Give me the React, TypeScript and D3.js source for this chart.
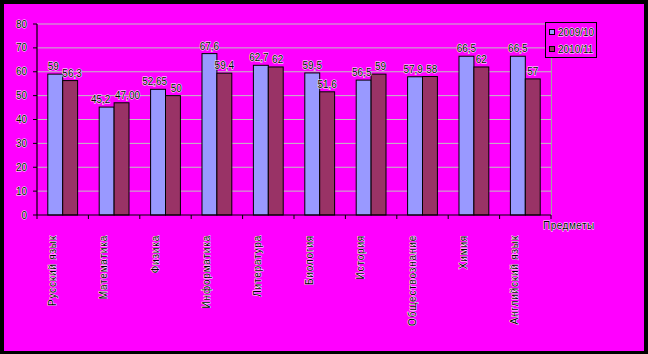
import React from "react";
import * as d3 from "d3";

const categories = [
  "Русский язык",
  "Математика",
  "Физика",
  "Информатика",
  "Литература",
  "Биология",
  "История",
  "Обществознание",
  "Химия",
  "Английский язык",
];
const series2009 = [59, 45.2, 52.65, 67.6, 62.7, 59.5, 56.5, 57.9, 66.5, 66.5];
const labels2009 = ["59", "45,2", "52,65", "67,6", "62,7", "59,5", "56,5", "57,9", "66,5", "66,5"];
const series2010 = [56.3, 47.0, 50, 59.4, 62, 51.6, 59, 58, 62, 57];
const labels2010 = ["56,3", "47,00", "50", "59,4", "62", "51,6", "59", "58", "62", "57"];
const seriesNames = ["2009/10", "2010/11"];
const yTicks = [0, 10, 20, 30, 40, 50, 60, 70, 80];
const axisTitle = "Предметы";

const W = 648;
const H = 354;
const FONT = "Arial, 'Liberation Sans', sans-serif";
const colors = ["#9999FF", "#993366"];

function textWidth(s: string) {
  let w = 0;
  for (const ch of s) w += ch === "," ? 4.5 : 5.8;
  return w;
}

export default function App() {
  const x0 = 37, x1 = 551, yTop = 24, yBot = 215;
  const x = d3.scaleBand<string>().domain(categories).range([x0, x1]);
  const y = d3.scaleLinear().domain([0, 80]).range([yBot, yTop]);
  const bw = x.bandwidth() * 0.29;
  const series = [series2009, series2010];
  const labels = [labels2009, labels2010];

  const textStyle = {
    fontFamily: FONT,
    fontSize: 10,
    fill: "#000",
    stroke: "#fff",
    strokeWidth: 0.9,
    paintOrder: "stroke",
  } as React.CSSProperties;

  // data label placement with simple overlap avoidance between the two bars of a group
  const labelPos = categories.map((c, i) => {
    const cx = x(c)! + x.bandwidth() / 2;
    const pos = series.map((s, j) => ({
      x: cx - bw + j * bw + bw / 2,
      y: y(s[i]) - 4,
      w: textWidth(labels[j][i]),
    }));
    const [a, b] = pos;
    if (Math.abs(a.y - b.y) < 10) {
      const overlap = a.x + a.w / 2 + 2 - (b.x - b.w / 2);
      if (overlap > 0) {
        a.x -= overlap / 2;
        b.x += overlap / 2;
      }
    }
    return pos;
  });

  return (
    <svg width={W} height={H} style={{ position: "absolute", left: 0, top: 0 }}>
      <rect x={0} y={0} width={W} height={H} fill="#000" />
      <rect x={4} y={4} width={640} height={347} fill="#FF00FF" />
      {yTicks.slice(1).map((t) => (
        <line key={t} x1={x0} x2={x1} y1={y(t)} y2={y(t)} stroke="#C0C0C0" strokeWidth={1} />
      ))}
      <line x1={x1 + 0.5} x2={x1 + 0.5} y1={yTop} y2={yBot} stroke="#A0A0A0" strokeWidth={1} />
      {categories.map((c, i) =>
        series.map((s, j) => {
          const cx = x(c)! + x.bandwidth() / 2;
          const bx = cx - bw + j * bw;
          return (
            <rect
              key={c + j}
              x={bx}
              y={y(s[i])}
              width={bw}
              height={yBot - y(s[i])}
              fill={colors[j]}
              stroke="#000"
              strokeWidth={1}
            />
          );
        })
      )}
      <line x1={x0} x2={x0} y1={yTop} y2={yBot} stroke="#000" strokeWidth={1.2} />
      <line x1={x0} x2={x1} y1={yBot} y2={yBot} stroke="#000" strokeWidth={1.2} />
      {yTicks.map((t) => (
        <g key={t}>
          <line x1={x0 - 4} x2={x0} y1={y(t)} y2={y(t)} stroke="#000" />
          <text x={27} y={y(t) + 3.5} textAnchor="end" style={textStyle}>
            {t}
          </text>
        </g>
      ))}
      {categories.map((c, i) => (
        <line key={"t" + i} x1={x(c)!} x2={x(c)!} y1={yBot} y2={yBot + 4} stroke="#000" />
      ))}
      <line x1={x1} x2={x1} y1={yBot} y2={yBot + 4} stroke="#000" />
      {categories.map((c, i) =>
        series.map((s, j) => (
          <text
            key={"l" + c + j}
            x={labelPos[i][j].x}
            y={labelPos[i][j].y}
            textAnchor="middle"
            style={textStyle}
          >
            {labels[j][i]}
          </text>
        ))
      )}
      {categories.map((c) => {
        const cx = x(c)! + x.bandwidth() / 2 - 7;
        return (
          <text
            key={"c" + c}
            transform={`translate(${cx},235) rotate(-90)`}
            textAnchor="end"
            style={{ ...textStyle, letterSpacing: 0.8 }}
          >
            {c}
          </text>
        );
      })}
      <text x={543} y={229} style={{ ...textStyle, letterSpacing: 0.5 }}>
        {axisTitle}
      </text>
      <rect x={545.5} y={22.5} width={51} height={35} fill="#FF00FF" stroke="#000" strokeWidth={1} />
      {seriesNames.map((n, j) => (
        <g key={n}>
          <rect x={549.5} y={29.5 + j * 17} width={5} height={5} fill={colors[j]} stroke="#000" strokeWidth={1} />
          <text x={558} y={35.5 + j * 17} style={textStyle}>
            {n}
          </text>
        </g>
      ))}
    </svg>
  );
}
